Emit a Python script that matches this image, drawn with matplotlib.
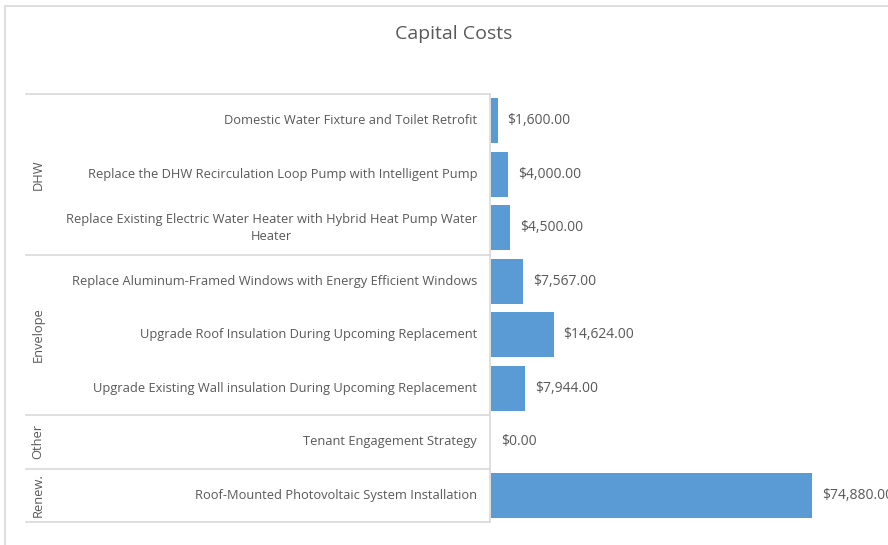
import matplotlib
matplotlib.use("Agg")
import matplotlib.pyplot as plt
from matplotlib.transforms import blended_transform_factory
from matplotlib.patches import Rectangle
from matplotlib.lines import Line2D

# --- Data ---
groups = ["DHW", "Envelope", "Other", "Renew."]
group_sizes = [3, 3, 1, 1]
measures = [
    "Domestic Water Fixture and Toilet Retrofit",
    "Replace the DHW Recirculation Loop Pump with Intelligent Pump",
    "Replace Existing Electric Water Heater with Hybrid Heat Pump Water\nHeater",
    "Replace Aluminum-Framed Windows with Energy Efficient Windows",
    "Upgrade Roof Insulation During Upcoming Replacement",
    "Upgrade Existing Wall insulation During Upcoming Replacement",
    "Tenant Engagement Strategy",
    "Roof-Mounted Photovoltaic System Installation",
]
costs = [1600, 4000, 4500, 7567, 14624, 7944, 0, 74880]

bar_color = "#5B9BD5"
text_color = "#595959"
line_color = "#D9D9D9"
plt.rcParams["font.family"] = ["Open Sans", "DejaVu Sans"]

W, H = 888, 545
fig = plt.figure(figsize=(W / 100, H / 100), dpi=100)

def fx(px):
    return px / W

def fy(py):
    return 1 - py / H

# outer chart border (runs off the right/bottom edge)
fig.patches.append(Rectangle((fx(5), fy(560)), fx(900), fy(6) - fy(560),
                             transform=fig.transFigure, fill=False,
                             edgecolor=line_color, lw=1.2))

fig.text(fx(454), fy(34), "Capital Costs", ha="center", va="center",
         fontsize=14, color=text_color)

# plot area
ax = fig.add_axes([fx(491), fy(522), fx(888) - fx(491), fy(94) - fy(522)])
n = len(measures)
ypos = list(range(n))
ax.barh(ypos, costs, height=0.85, color=bar_color)
ax.set_ylim(n - 0.5, -0.5)
ax.set_xlim(0, 74880 * 397 / 321)
ax.axis("off")

for y, v in zip(ypos, costs):
    ax.annotate(f"${v:,.2f}", (v, y), xytext=(7, 0), textcoords="offset points",
                ha="left", va="center", fontsize=10, color=text_color,
                annotation_clip=False)

# category axis (two levels)
tr = blended_transform_factory(fig.transFigure, ax.transData)
for y, lab in zip(ypos, measures):
    fig.text(fx(477), y, lab, transform=tr, ha="right", va="center",
             multialignment="center", fontsize=9.3, color=text_color,
             linespacing=1.4)

start = 0
bounds = [-0.5]
for g, size in zip(groups, group_sizes):
    mid = start + (size - 1) / 2
    fig.text(fx(38), mid, g, transform=tr, ha="center", va="center",
             rotation=90, fontsize=9.3, color=text_color)
    start += size
    bounds.append(start - 0.5)

for b in bounds:
    fig.lines.append(Line2D([fx(26), fx(490)], [b, b], transform=tr,
                            color=line_color, lw=1.2))
fig.lines.append(Line2D([fx(490), fx(490)], [-0.5, n - 0.5], transform=tr,
                        color=line_color, lw=1.2))

fig.savefig("out.png", dpi=100)
